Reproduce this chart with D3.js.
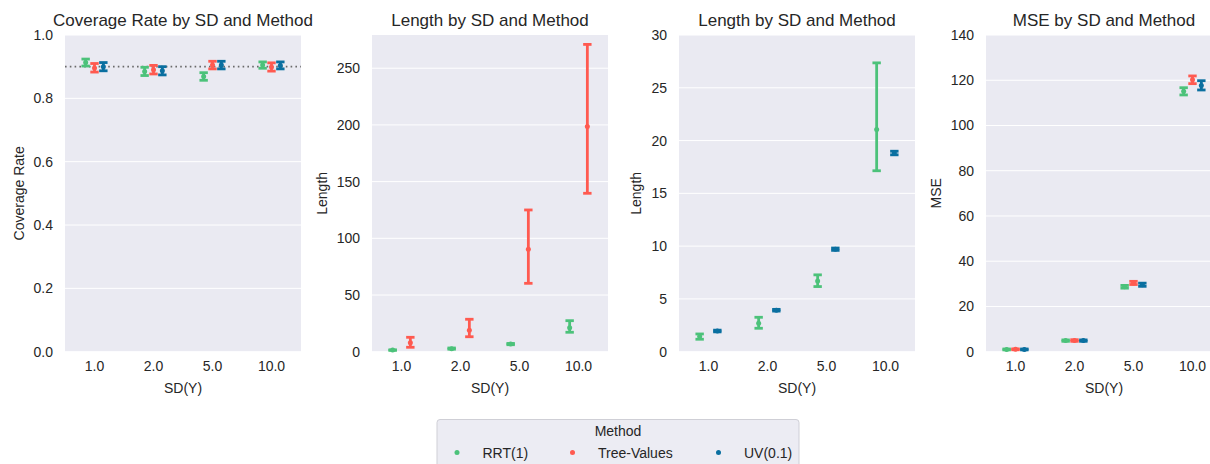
<!DOCTYPE html>
<html>
<head>
<meta charset="utf-8">
<script src="https://cdn.jsdelivr.net/npm/d3@7"></script>
<style>
  body { margin: 0; background: #fff; }
  svg text { font-family: "Liberation Sans", Arial, sans-serif; fill: #262626; }
</style>
</head>
<body>
<script>
// categories
const sdLevels = ["1.0", "2.0", "5.0", "10.0"];
const methods = ["RRT(1)", "Tree-Values", "UV(0.1)"];
const methodColors = ["#4cc27a", "#ff5a50", "#0a6fa0"];

// coverage rate (mean, lower, upper) per method
const coverageRRT = [0.913, 0.885, 0.869, 0.905];
const coverageRRTLo = [0.902, 0.872, 0.857, 0.895];
const coverageRRTHi = [0.924, 0.898, 0.881, 0.915];
const coverageTV = [0.896, 0.890, 0.905, 0.899];
const coverageTVLo = [0.883, 0.877, 0.893, 0.886];
const coverageTVHi = [0.910, 0.904, 0.917, 0.912];
const coverageUV = [0.900, 0.887, 0.905, 0.904];
const coverageUVLo = [0.887, 0.874, 0.893, 0.893];
const coverageUVHi = [0.913, 0.900, 0.917, 0.915];

// interval length
const lengthRRT = [1.43, 2.70, 6.70, 21.06];
const lengthRRTLo = [1.18, 2.22, 6.17, 17.14];
const lengthRRTHi = [1.68, 3.26, 7.28, 27.36];
const lengthTV = [8.0, 19.0, 90.3, 198.7];
const lengthTVLo = [3.9, 13.2, 60.3, 139.7];
const lengthTVHi = [12.7, 28.6, 125.0, 271.0];
const lengthUV = [1.96, 3.93, 9.71, 18.82];
const lengthUVLo = [1.88, 3.85, 9.60, 18.65];
const lengthUVHi = [2.04, 4.01, 9.82, 18.99];

// mse
const mseRRT = [1.0, 4.9, 28.7, 115.1];
const mseRRTLo = [0.8, 4.6, 28.1, 113.5];
const mseRRTHi = [1.2, 5.2, 29.3, 116.7];
const mseTV = [1.05, 4.95, 30.4, 120.2];
const mseTVLo = [0.85, 4.6, 29.7, 118.5];
const mseTVHi = [1.25, 5.3, 31.1, 121.9];
const mseUV = [1.0, 4.9, 29.6, 117.7];
const mseUVLo = [0.8, 4.6, 28.9, 115.7];
const mseUVHi = [1.2, 5.2, 30.3, 119.8];

// tick labels
const coverageTicks = [0, 0.2, 0.4, 0.6, 0.8, 1.0];
const lengthTicksWide = [0, 50, 100, 150, 200, 250];
const lengthTicksNarrow = [0, 5, 10, 15, 20, 25, 30];
const mseTicks = [0, 20, 40, 60, 80, 100, 120, 140];

function series(m, mean, lo, hi) {
    return { method: m, values: sdLevels.map((sd, i) => ({ sd: sd, mean: mean[i], lo: lo[i], hi: hi[i] })) };
}

const panels = [
    { title: "Coverage Rate by SD and Method", ylabel: "Coverage Rate", domain: [0, 1], ticks: coverageTicks, fmt: d3.format(".1f"), ref: 0.9,
      series: [series(0, coverageRRT, coverageRRTLo, coverageRRTHi), series(1, coverageTV, coverageTVLo, coverageTVHi), series(2, coverageUV, coverageUVLo, coverageUVHi)] },
    { title: "Length by SD and Method", ylabel: "Length", domain: [0, 279.3], ticks: lengthTicksWide, fmt: d3.format("d"),
      series: [series(0, lengthRRT, lengthRRTLo, lengthRRTHi), series(1, lengthTV, lengthTVLo, lengthTVHi)] },
    { title: "Length by SD and Method", ylabel: "Length", domain: [0, 30], ticks: lengthTicksNarrow, fmt: d3.format("d"),
      series: [series(0, lengthRRT, lengthRRTLo, lengthRRTHi), series(2, lengthUV, lengthUVLo, lengthUVHi)] },
    { title: "MSE by SD and Method", ylabel: "MSE", domain: [0, 140], ticks: mseTicks, fmt: d3.format("d"),
      series: [series(0, mseRRT, mseRRTLo, mseRRTHi), series(1, mseTV, mseTVLo, mseTVHi), series(2, mseUV, mseUVLo, mseUVHi)] }
];

const W = 1210, H = 464;
const panelLeft = [65, 372, 679, 986];
const panelW = 236, plotTop = 35, plotBottom = 351.7;

const svg = d3.select("body").append("svg")
    .attr("width", W)
    .attr("height", H);

panels.forEach(function (p, pi) {
    const g = svg.append("g")
        .attr("transform", "translate(" + panelLeft[pi] + "," + plotTop + ")");
    const h = plotBottom - plotTop;

    const x = d3.scaleBand().domain(sdLevels).range([0, panelW]);
    const y = d3.scaleLinear().domain(p.domain).range([h, 0]);

    g.append("rect")
        .attr("width", panelW)
        .attr("height", h)
        .attr("fill", "#eaeaf2");

    // grid
    g.selectAll(".grid")
        .data(p.ticks)
        .enter().append("line")
        .attr("x1", 0).attr("x2", panelW)
        .attr("y1", d => y(d)).attr("y2", d => y(d))
        .attr("stroke", "#fff")
        .attr("stroke-width", 1);

    // y axis
    const ya = g.append("g")
        .call(d3.axisLeft(y).tickValues(p.ticks).tickFormat(p.fmt).tickSize(0).tickPadding(12));
    ya.select(".domain").remove();
    ya.selectAll("text").attr("font-size", 14).style("fill", "#262626");

    // x axis
    const xa = g.append("g")
        .attr("transform", "translate(0," + h + ")")
        .call(d3.axisBottom(x).tickSize(0).tickPadding(9));
    xa.select(".domain").remove();
    xa.selectAll("text").attr("font-size", 14).style("fill", "#262626");

    if (p.ref !== undefined) {
        g.append("line")
            .attr("x1", 0).attr("x2", panelW)
            .attr("y1", y(p.ref)).attr("y2", y(p.ref))
            .attr("stroke", "#6a6a6a")
            .attr("stroke-width", 1.6)
            .attr("stroke-dasharray", "1.6,3.2");
    }

    // dodge offsets
    const n = p.series.length;
    const dodge = x.bandwidth() * 0.3;
    const offs = d3.range(n).map(i => (n === 1 ? 0 : -dodge / 2 + dodge * i / (n - 1)));
    const cap = 4.2;

    p.series.forEach(function (s, si) {
        const col = methodColors[s.method];
        const sg = g.append("g");
        const cx = d => x(d.sd) + x.bandwidth() / 2 + offs[si];
        sg.selectAll(".bar").data(s.values).enter().append("line")
            .attr("x1", cx).attr("x2", cx)
            .attr("y1", d => y(d.lo)).attr("y2", d => y(d.hi))
            .attr("stroke", col).attr("stroke-width", 2.8);
        sg.selectAll(".capLo").data(s.values).enter().append("line")
            .attr("x1", d => cx(d) - cap).attr("x2", d => cx(d) + cap)
            .attr("y1", d => y(d.lo)).attr("y2", d => y(d.lo))
            .attr("stroke", col).attr("stroke-width", 2.8);
        sg.selectAll(".capHi").data(s.values).enter().append("line")
            .attr("x1", d => cx(d) - cap).attr("x2", d => cx(d) + cap)
            .attr("y1", d => y(d.hi)).attr("y2", d => y(d.hi))
            .attr("stroke", col).attr("stroke-width", 2.8);
        sg.selectAll(".pt").data(s.values).enter().append("circle")
            .attr("cx", cx).attr("cy", d => y(d.mean))
            .attr("r", 2.5)
            .attr("fill", col);
    });

    // labels
    g.append("text")
        .attr("x", panelW / 2).attr("y", -9)
        .attr("text-anchor", "middle")
        .attr("font-size", 17)
        .text(p.title);

    g.append("text")
        .attr("x", panelW / 2).attr("y", h + 41)
        .attr("text-anchor", "middle")
        .attr("font-size", 14)
        .text("SD(Y)");

    const tb = ya.node().getBBox();
    g.append("text")
        .attr("transform", "translate(" + (tb.x - 10) + "," + (h / 2) + ") rotate(-90)")
        .attr("text-anchor", "middle")
        .attr("font-size", 14)
        .text(p.ylabel);
});

// legend
const lg = svg.append("g").attr("transform", "translate(437,419.5)");
lg.append("rect")
    .attr("width", 362).attr("height", 52)
    .attr("rx", 3)
    .attr("fill", "#ececf3")
    .attr("stroke", "#cfcfd6");
lg.append("text")
    .attr("x", 181).attr("y", 16)
    .attr("text-anchor", "middle")
    .attr("font-size", 14)
    .text("Method");
const legendX = [20, 135.5, 281.5];
const items = lg.selectAll(".item").data(methods).enter().append("g")
    .attr("transform", (d, i) => "translate(" + legendX[i] + ",33)");
items.append("circle").attr("r", 2.5).attr("fill", (d, i) => methodColors[i]);
items.append("text")
    .attr("x", 25.5).attr("y", 5)
    .attr("font-size", 14)
    .text(d => d);
</script>
</body>
</html>
